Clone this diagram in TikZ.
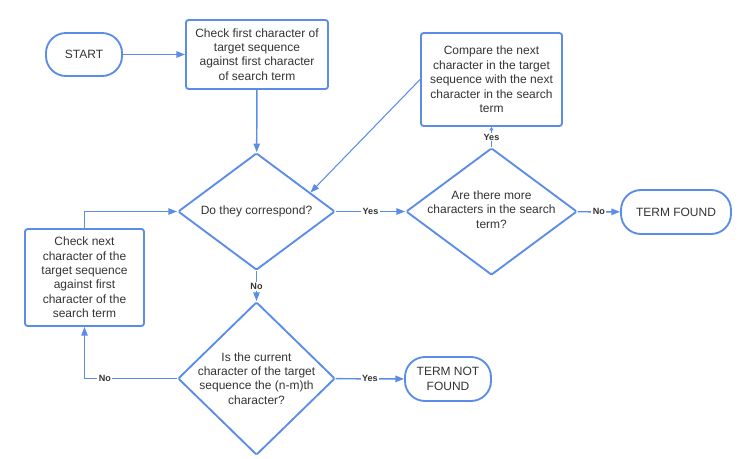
\documentclass[tikz,border=0pt]{standalone}
\usepackage{fontspec}
\setmainfont{Liberation Sans}
\usetikzlibrary{shapes.geometric,arrows.meta,calc}
\definecolor{lucid}{HTML}{5B8DE8}
\definecolor{ink}{HTML}{333333}
\begin{document}
\begin{tikzpicture}[x=0.75pt,y=-0.75pt,
  every node/.style={text=ink,font=\fontsize{9}{10.8}\selectfont,align=center},
  proc/.style={draw=lucid,line width=1.4pt,rounded corners=2pt,inner sep=0pt},
  term/.style={draw=lucid,line width=1.4pt,rounded corners=15pt,inner sep=0pt},
  dec/.style={draw=lucid,line width=1.4pt,shape=diamond,inner sep=0pt,rounded corners=1pt},
  flow/.style={draw=lucid,line width=1.1pt,-{Triangle[length=6.5pt,width=4.8pt]}},
  smalltip/.style={-{Triangle[length=2.5pt,width=3pt]}},
  lbl/.style={font=\bfseries\fontsize{6.8}{8}\selectfont,fill=white,inner sep=1pt}
]
\useasboundingbox (0,0) rectangle (739,458);

% terminals and process boxes
\node[term,minimum width=57pt,minimum height=32.25pt] (start) at (84,54.5) {START};
\node[proc,minimum width=106.5pt,minimum height=51.75pt] (box1) at (257,54.5)
  {Check first character of\\target sequence\\against first character\\of search term};
\node[proc,minimum width=105.75pt,minimum height=69.75pt] (cmp) at (491.5,79.5)
  {Compare the next\\character in the target\\sequence with the next\\character in the search\\term};
\node[term,minimum width=82.5pt,minimum height=33pt] (found) at (676,212) {TERM FOUND};
\node[term,minimum width=64.5pt,minimum height=33pt] (notfound) at (448,379) {TERM NOT\\FOUND};
\node[proc,minimum width=89.25pt,minimum height=72.75pt] (next) at (84.5,277.5)
  {Check next\\character of the\\target sequence\\against first\\character of the\\search term};

% decisions
\node[dec,minimum width=117.75pt,minimum height=87.75pt] (d1) at (256.5,211.5) {};
\node (d1t) at (d1.center) {Do they correspond?};
\node[dec,minimum width=128.25pt,minimum height=95.25pt] (d2) at (491.5,211.5) {};
\node (d2t) at (491.5,209.5) {Are there more\\characters in the search\\term?};
\node[dec,minimum width=117.75pt,minimum height=114.75pt] (d3) at (256.5,378.5) {};
\node (d3t) at (d3.center) {Is the current\\character of the target\\sequence the (n-m)th\\character?};

% connectors
\draw[flow] (start) -- (box1);
\draw[flow] (box1) -- (d1);
\draw[flow,line width=0.8pt] (cmp.west) -- ($(d1.north)!0.68!(d1.east)$);
\draw[flow] (d1) -- node[lbl]{Yes} (d2);
\draw[flow] (d2) -- node[lbl]{No} (found);
\draw[flow,smalltip] (d2) -- node[lbl]{Yes} (cmp);
\draw[flow] (d1) -- node[lbl]{No} (d3);
\draw[flow] (d3) -- node[lbl]{Yes} (notfound);
\draw[flow] (d3.west) -| node[lbl,pos=0.39]{No} (next.south);
\draw[flow] (next.north) |- (d1.west);
\end{tikzpicture}
\end{document}
